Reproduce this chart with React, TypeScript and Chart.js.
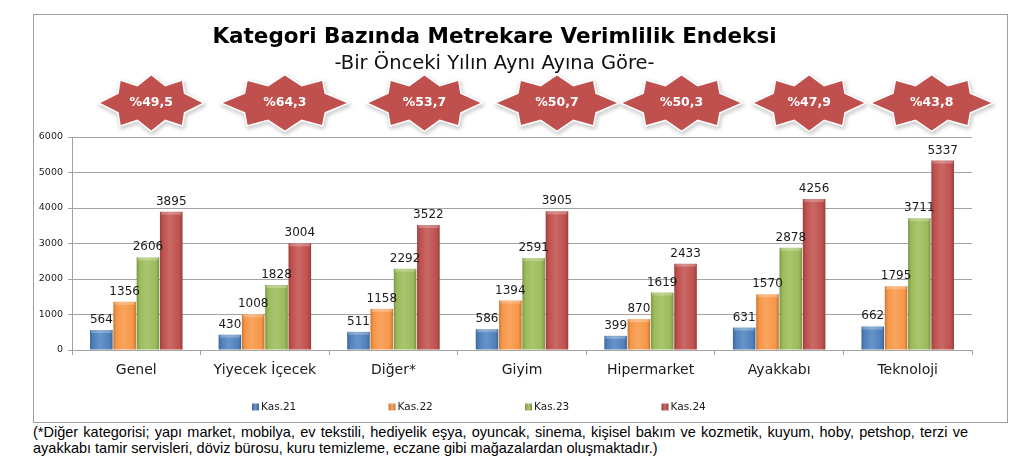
import React, { useEffect, useRef } from "react";
import { Chart, registerables } from "chart.js";

Chart.register(...registerables);

// ---- data ----
const categories = ["Genel", "Yiyecek İçecek", "Diğer*", "Giyim", "Hipermarket", "Ayakkabı", "Teknoloji"];
const seriesLabels = ["Kas.21", "Kas.22", "Kas.23", "Kas.24"];
const kas21 = [564, 430, 511, 586, 399, 631, 662];
const kas22 = [1356, 1008, 1158, 1394, 870, 1570, 1795];
const kas23 = [2606, 1828, 2292, 2591, 1619, 2878, 3711];
const kas24 = [3895, 3004, 3522, 3905, 2433, 4256, 5337];
const changeLabels = ["%49,5", "%64,3", "%53,7", "%50,7", "%50,3", "%47,9", "%43,8"];
const yMax = 6000;
const yStep = 1000;
const titleText = "Kategori Bazında Metrekare Verimlilik Endeksi";
const subtitleText = "-Bir Önceki Yılın Aynı Ayına Göre-";
const footLine1 =
  "(*Diğer kategorisi; yapı market, mobilya, ev tekstili, hediyelik eşya, oyuncak, sinema, kişisel bakım ve kozmetik, kuyum, hoby, petshop, terzi ve";
const footLine2 = "ayakkabı tamir servisleri, döviz bürosu, kuru temizleme, eczane gibi mağazalardan oluşmaktadır.)";

// ---- styles ----
const BAR_COLORS = ["#4F81BD", "#F79646", "#9BBB59", "#C0504D"];
const BADGE_COLOR = "#C0504D";
const BADGE_DX = [15, 20, 31, 35, 31, 30, 24];
const BADGE_W = [102, 124, 112, 120, 118, 110, 119];
const BADGE_H = 55;
const GRID = "#a3a3a3";
const FONT = "'DejaVu Sans', Verdana, sans-serif";

function hexToRgb(h: string) {
  const n = parseInt(h.slice(1), 16);
  return [(n >> 16) & 255, (n >> 8) & 255, n & 255];
}
function shade(h: string, f: number) {
  const [r, g, b] = hexToRgb(h);
  return `rgb(${Math.round(r * f)},${Math.round(g * f)},${Math.round(b * f)})`;
}
function tint(h: string, t: number) {
  const [r, g, b] = hexToRgb(h);
  return `rgb(${Math.round(r + (255 - r) * t)},${Math.round(g + (255 - g) * t)},${Math.round(b + (255 - b) * t)})`;
}

const barShade = {
  id: "barShade",
  beforeDatasetsDraw(chart: any) {
    const ctx = chart.ctx;
    chart.data.datasets.forEach((_: any, i: number) => {
      const meta = chart.getDatasetMeta(i);
      const base = BAR_COLORS[i];
      meta.data.forEach((el: any) => {
        const { x, width } = el.getProps(["x", "width"], true);
        const g = ctx.createLinearGradient(x - width / 2, 0, x + width / 2, 0);
        g.addColorStop(0, shade(base, 0.8));
        g.addColorStop(0.14, base);
        g.addColorStop(0.45, tint(base, 0.14));
        g.addColorStop(0.86, base);
        g.addColorStop(1, shade(base, 0.78));
        el.options = { ...el.options, backgroundColor: g };
      });
    });
  },
  afterDatasetsDraw(chart: any) {
    const ctx = chart.ctx;
    ctx.save();
    chart.data.datasets.forEach((ds: any, i: number) => {
      const meta = chart.getDatasetMeta(i);
      meta.data.forEach((el: any, j: number) => {
        const { x, y, width, base } = el.getProps(["x", "y", "width", "base"], true);
        ctx.fillStyle = "rgba(255,255,255,0.25)";
        ctx.fillRect(x - width / 2 + 1, y, width - 2, Math.min(3, base - y));
        ctx.fillStyle = "#1a1a1a";
        ctx.font = `12px ${FONT}`;
        ctx.textAlign = "center";
        ctx.textBaseline = "alphabetic";
        ctx.fillText(String(ds.data[j]), x, y - 7);
      });
    });
    ctx.restore();
  },
};

function starPath(ctx: CanvasRenderingContext2D, cx: number, cy: number, w: number, h: number) {
  const pts = [
    [0, -1],
    [0.27, -0.6],
    [0.6, -0.8],
    [0.64, -0.34],
    [1, 0],
    [0.64, 0.34],
    [0.6, 0.8],
    [0.27, 0.6],
    [0, 1],
    [-0.27, 0.6],
    [-0.6, 0.8],
    [-0.64, 0.34],
    [-1, 0],
    [-0.64, -0.34],
    [-0.6, -0.8],
    [-0.27, -0.6],
  ];
  ctx.beginPath();
  pts.forEach(([px, py], k) => {
    const X = cx + px * w;
    const Y = cy + py * h;
    if (k === 0) ctx.moveTo(X, Y);
    else ctx.lineTo(X, Y);
  });
  ctx.closePath();
}

const badges = {
  id: "badges",
  afterDraw(chart: any) {
    const ctx = chart.ctx;
    const xs = chart.scales.x;
    const cy = chart.chartArea.top - 34;
    ctx.save();
    changeLabels.forEach((txt, i) => {
      const cx = xs.getPixelForValue(i) + BADGE_DX[i];
      const w = BADGE_W[i] / 2;
      const h = BADGE_H / 2;
      ctx.save();
      ctx.shadowColor = "rgba(0,0,0,0.3)";
      ctx.shadowBlur = 4;
      ctx.shadowOffsetX = 1;
      ctx.shadowOffsetY = 2;
      starPath(ctx, cx, cy, w, h);
      ctx.lineJoin = "miter";
      ctx.lineWidth = 3;
      ctx.strokeStyle = "#ffffff";
      ctx.stroke();
      ctx.restore();
      starPath(ctx, cx, cy, w, h);
      ctx.fillStyle = BADGE_COLOR;
      ctx.fill();
      ctx.fillStyle = "#ffffff";
      ctx.font = `bold 12.5px ${FONT}`;
      ctx.textAlign = "center";
      ctx.textBaseline = "middle";
      ctx.fillText(txt, cx, cy);
    });
    ctx.restore();
  },
};

const LEGEND_X0 = 218;
const LEGEND_STEP = 136.5;
const legendPlugin = {
  id: "customLegend",
  afterDraw(chart: any) {
    const ctx = chart.ctx;
    const y = chart.height - 15;
    ctx.save();
    seriesLabels.forEach((lab, i) => {
      const x = LEGEND_X0 + i * LEGEND_STEP;
      const g = ctx.createLinearGradient(x, 0, x + 7, 0);
      g.addColorStop(0, shade(BAR_COLORS[i], 0.8));
      g.addColorStop(0.5, tint(BAR_COLORS[i], 0.15));
      g.addColorStop(1, shade(BAR_COLORS[i], 0.8));
      ctx.fillStyle = g;
      ctx.fillRect(x, y - 3.5, 7, 7);
      ctx.fillStyle = "#1a1a1a";
      ctx.font = `10.5px ${FONT}`;
      ctx.textAlign = "left";
      ctx.textBaseline = "middle";
      ctx.fillText(lab, x + 9, y);
    });
    ctx.restore();
  },
};

export default function App() {
  const ref = useRef<HTMLCanvasElement | null>(null);
  useEffect(() => {
    if (!ref.current) return;
    const series = [kas21, kas22, kas23, kas24];
    const chart = new Chart(ref.current, {
      type: "bar",
      data: {
        labels: categories,
        datasets: series.map((d, i) => ({
          label: seriesLabels[i],
          data: d,
          backgroundColor: BAR_COLORS[i],
          borderWidth: 0,
          categoryPercentage: 0.725,
          barPercentage: 0.97,
        })),
      },
      options: {
        responsive: false,
        animation: false,
        layout: { padding: { left: -17, right: 35, top: 0, bottom: 42 } },
        plugins: {
          legend: { display: false },
          tooltip: { enabled: false },
          title: {
            display: true,
            text: titleText,
            color: "#000",
            font: { family: FONT, size: 21.5, weight: "bold", lineHeight: 1.2 },
            padding: { top: 10, bottom: 1.1 },
          },
          subtitle: {
            display: true,
            text: subtitleText,
            color: "#111",
            font: { family: FONT, size: 19.5, weight: "normal", lineHeight: 1.2 },
            padding: { top: 0, bottom: 61.7 },
          },
        },
        scales: {
          x: {
            grid: {
              display: true,
              drawOnChartArea: false,
              drawTicks: true,
              tickLength: 5,
              offset: true,
              color: GRID,
            },
            border: { display: true, color: GRID, width: 1 },
            ticks: { color: "#1a1a1a", font: { family: FONT, size: 14 }, padding: 7, maxRotation: 0, autoSkip: false },
            afterFit: (s: any) => {
              s.height = 30;
            },
          },
          y: {
            min: 0,
            max: yMax,
            ticks: {
              stepSize: yStep,
              color: "#1a1a1a",
              font: { family: FONT, size: 9.5 },
              padding: 5,
              callback: (v: any) => String(v),
            },
            grid: { color: GRID, tickLength: 4, lineWidth: 1 },
            border: { display: true, color: GRID, width: 1 },
            afterFit: (s: any) => {
              s.width = 55;
            },
          },
        },
      },
      plugins: [barShade, badges, legendPlugin],
    });
    return () => chart.destroy();
  }, []);

  return (
    <div style={{ marginLeft: 25, marginTop: 6 }}>
      <div style={{ width: 973, height: 407, border: "1px solid #9e9e9e", background: "#fff" }}>
        <canvas ref={ref} width={973} height={407} style={{ display: "block" }} />
      </div>
      <div
        style={{
          fontFamily: "'Liberation Sans', Arial, sans-serif",
          fontSize: 14.5,
          lineHeight: "16px",
          color: "#000",
          width: 975,
          marginTop: 1,
        }}
      >
        <div style={{ width: 935, textAlign: "justify", textAlignLast: "justify", whiteSpace: "normal" }}>{footLine1}</div>
        <div style={{ whiteSpace: "nowrap" }}>{footLine2}</div>
      </div>
    </div>
  );
}
